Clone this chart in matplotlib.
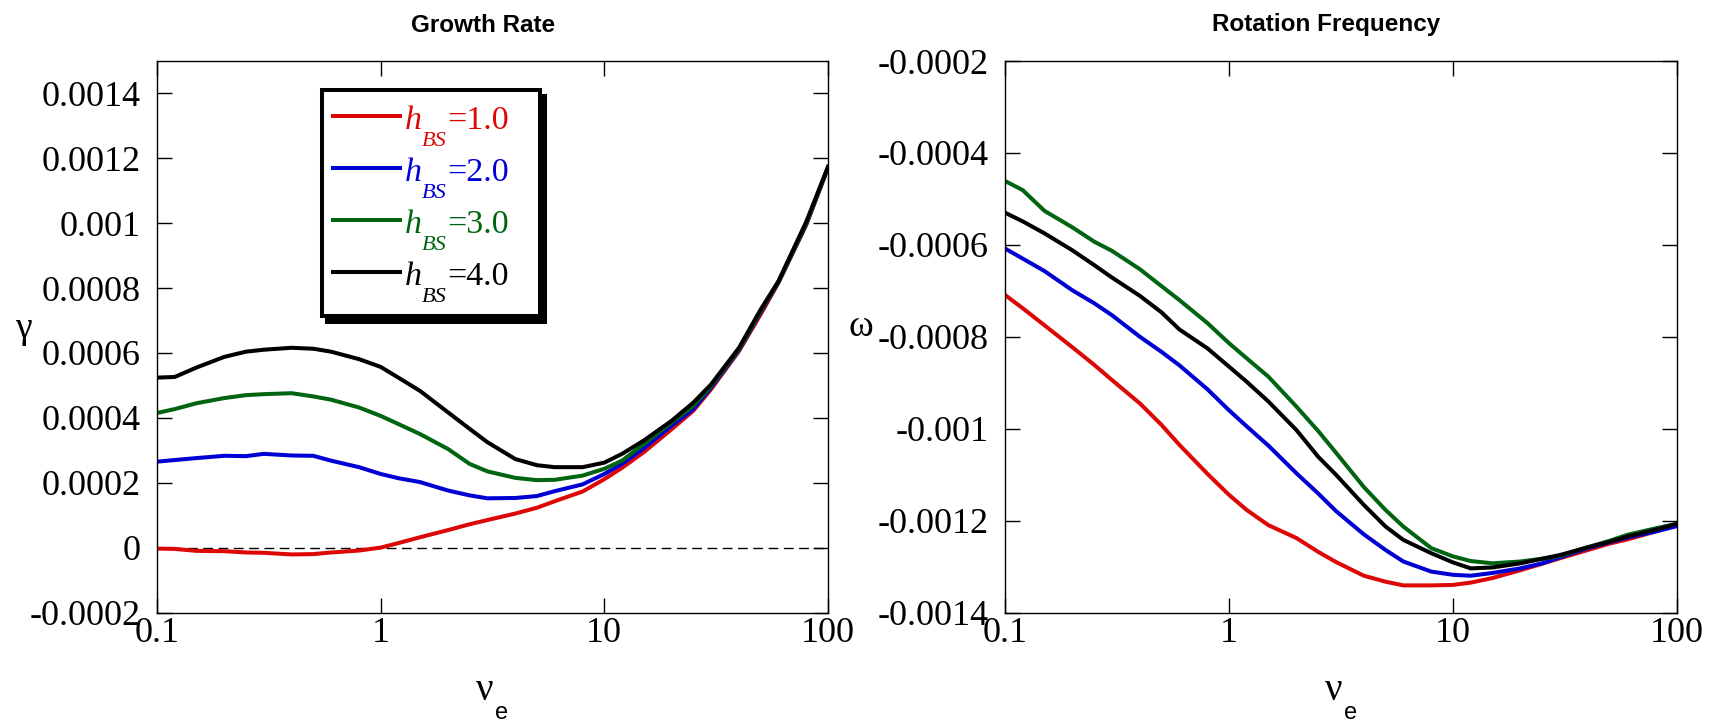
import matplotlib
matplotlib.use("Agg")
import matplotlib.pyplot as plt
from matplotlib import font_manager
from matplotlib.patches import Rectangle
from matplotlib.lines import Line2D

# collision frequency grid
nu_e = [0.1, 0.12, 0.15, 0.2, 0.25, 0.3, 0.4, 0.5, 0.6, 0.8, 1, 1.2, 1.5, 2, 2.5, 3,
        4, 5, 6, 8, 10, 12, 15, 20, 25, 30, 40, 50, 60, 80, 100]

# growth rate for each h_BS
gamma_h1 = [-0.000003, -0.000004, -0.00001, -0.000011, -0.000015, -0.000016, -0.000021,
            -0.00002, -0.000015, -0.000009, 0.0, 0.000014, 0.000032, 0.000054, 0.000072,
            0.000085, 0.000105, 0.000123, 0.000143, 0.000173, 0.000211, 0.000246, 0.000294,
            0.000365, 0.000422, 0.000488, 0.000606, 0.000719, 0.000816, 0.000995, 0.001171]
gamma_h2 = [0.000265, 0.00027, 0.000276, 0.000283, 0.000282, 0.000289, 0.000284, 0.000283,
            0.000268, 0.000248, 0.000227, 0.000214, 0.000202, 0.000176, 0.000161, 0.000152,
            0.000153, 0.000159, 0.000174, 0.000195, 0.000227, 0.000258, 0.000306, 0.000376,
            0.000427, 0.000493, 0.000609, 0.000726, 0.000818, 0.000998, 0.001172]
gamma_h3 = [0.000415, 0.000427, 0.000445, 0.000461, 0.00047, 0.000473, 0.000476, 0.000466,
            0.000456, 0.000432, 0.000406, 0.000381, 0.00035, 0.000304, 0.000258, 0.000235,
            0.000215, 0.000208, 0.000209, 0.000222, 0.000243, 0.000268, 0.000319, 0.000386,
            0.000437, 0.000498, 0.000612, 0.00073, 0.000819, 0.001, 0.001172]
gamma_h4 = [0.000524, 0.000526, 0.000555, 0.000588, 0.000604, 0.00061, 0.000616, 0.000613,
            0.000604, 0.000581, 0.000557, 0.000524, 0.000483, 0.000417, 0.000366, 0.000325,
            0.000273, 0.000254, 0.000248, 0.000248, 0.000262, 0.000289, 0.00033, 0.000391,
            0.000447, 0.000503, 0.000616, 0.000734, 0.000821, 0.001005, 0.001174]

# rotation frequency for each h_BS
omega_h1 = [-0.000709, -0.000738, -0.000775, -0.000823, -0.000861, -0.000894, -0.000945,
            -0.000992, -0.001035, -0.001098, -0.001144, -0.001177, -0.00121, -0.001238,
            -0.001268, -0.00129, -0.00132, -0.001333, -0.001341, -0.001341, -0.00134,
            -0.001335, -0.001325, -0.001308, -0.001294, -0.001282, -0.001264, -0.00125,
            -0.001241, -0.001224, -0.001209]
omega_h2 = [-0.000608, -0.00063, -0.000657, -0.000699, -0.000727, -0.000753, -0.0008,
            -0.000833, -0.000862, -0.000914, -0.00096, -0.000995, -0.001037, -0.001097,
            -0.001141, -0.001179, -0.00123, -0.001264, -0.001289, -0.001311, -0.001318,
            -0.00132, -0.001314, -0.001304, -0.001293, -0.00128, -0.00126, -0.001247,
            -0.001237, -0.001224, -0.001212]
omega_h3 = [-0.000461, -0.000481, -0.000526, -0.000562, -0.000593, -0.000613, -0.000653,
            -0.00069, -0.00072, -0.00077, -0.000814, -0.000847, -0.000887, -0.000952,
            -0.001005, -0.001052, -0.001127, -0.001177, -0.001213, -0.00126, -0.001278,
            -0.001288, -0.001293, -0.001289, -0.001283, -0.001277, -0.001258, -0.001244,
            -0.001231, -0.001217, -0.001207]
omega_h4 = [-0.00053, -0.000549, -0.000575, -0.000612, -0.000644, -0.000671, -0.000711,
            -0.000747, -0.000784, -0.000825, -0.000865, -0.000898, -0.000941, -0.001003,
            -0.001061, -0.0011, -0.001166, -0.001213, -0.001242, -0.001271, -0.001291,
            -0.001304, -0.001302, -0.001293, -0.001283, -0.001275, -0.001258, -0.001246,
            -0.001235, -0.00122, -0.001207]

series_labels = ["1.0", "2.0", "3.0", "4.0"]
colors = ["#dd0806", "#0000d4", "#006411", "#000000"]

x_ticks = [0.1, 1, 10, 100]
x_ticklabels = ["0.1", "1", "10", "100"]
gamma_ticks = [-0.0002, 0, 0.0002, 0.0004, 0.0006, 0.0008, 0.001, 0.0012, 0.0014]
gamma_ticklabels = ["-0.0002", "0", "0.0002", "0.0004", "0.0006", "0.0008", "0.001", "0.0012", "0.0014"]
omega_ticks = [-0.0014, -0.0012, -0.001, -0.0008, -0.0006, -0.0004, -0.0002]
omega_ticklabels = ["-0.0014", "-0.0012", "-0.001", "-0.0008", "-0.0006", "-0.0004", "-0.0002"]

W, H = 1718, 724
serif = "Liberation Serif"
names = {f.name for f in font_manager.fontManager.ttflist}
title_font = "Liberation Sans Narrow" if "Liberation Sans Narrow" in names else "Liberation Sans"
title_size = 20 if title_font == "Liberation Sans Narrow" else 17.5
sub_font = "Liberation Sans"

def fpos(x, y):
    return x / W, 1 - y / H

fig = plt.figure(figsize=(W / 100, H / 100), dpi=100)
ax1 = fig.add_axes([157 / W, 1 - 612.5 / H, 671 / W, 551.5 / H])
ax2 = fig.add_axes([1005 / W, 1 - 612.5 / H, 672 / W, 551.5 / H])

for ys, c in zip([gamma_h1, gamma_h2, gamma_h3, gamma_h4], colors):
    ax1.plot(nu_e, ys, color=c, lw=2.9)
ax1.axhline(0, color="black", lw=1.0, ls=(0, (7, 4)), zorder=1)

for ys, c in zip([omega_h1, omega_h2, omega_h3, omega_h4], colors):
    ax2.plot(nu_e, ys, color=c, lw=2.9)

for ax, yt, ytl, ylim in [(ax1, gamma_ticks, gamma_ticklabels, (-0.0002, 0.0015)),
                          (ax2, omega_ticks, omega_ticklabels, (-0.0014, -0.0002))]:
    ax.set_xscale("log")
    ax.set_xlim(0.1, 100)
    ax.set_ylim(*ylim)
    ax.set_xticks(x_ticks)
    ax.set_xticklabels(x_ticklabels)
    ax.xaxis.set_minor_locator(matplotlib.ticker.NullLocator())
    ax.set_yticks(yt)
    ax.set_yticklabels(ytl)
    ax.tick_params(direction="in", length=10.5, width=1.0, top=True, right=True,
                   labelsize=26)
    ax.tick_params(axis="y", pad=12)
    ax.tick_params(axis="x", pad=3)
    for lab in ax.get_xticklabels() + ax.get_yticklabels():
        lab.set_fontfamily(serif)
    for sp in ax.spines.values():
        sp.set_linewidth(1.0)

# titles
fig.text(*fpos(483, 25), "Growth Rate", family=title_font, weight="bold",
         fontsize=title_size, ha="center", va="center")
fig.text(*fpos(1326, 25), "Rotation Frequency", family=title_font, weight="bold",
         fontsize=title_size, ha="center", va="center")

# axis labels
fig.text(*fpos(23, 329), "\u03b3", family=serif, fontsize=27, ha="center", va="center")
fig.text(*fpos(861, 327), "\u03c9", family=serif, fontsize=27, ha="center", va="center")
for x0 in [476, 1325]:
    fig.text(*fpos(x0, 700), "\u03bd", family=serif, fontsize=28, ha="left", va="baseline")
    fig.text(*fpos(x0 + 19, 719), "e", family=sub_font, fontsize=17, ha="left", va="baseline")

# legend box with shadow
bx0, by0, bx1, by1 = 322, 90.3, 539.7, 316.3
fig.add_artist(Rectangle(fpos(bx0 + 5, by1 + 6), (bx1 - bx0) / W, (by1 - by0) / H,
                         transform=fig.transFigure, facecolor="black", edgecolor="black",
                         lw=2.9, zorder=5))
fig.add_artist(Rectangle(fpos(bx0, by1), (bx1 - bx0) / W, (by1 - by0) / H,
                         transform=fig.transFigure, facecolor="white", edgecolor="black",
                         lw=2.9, zorder=6))
row_y = [116, 168, 220, 272]
for yy, lab, c in zip(row_y, series_labels, colors):
    fig.add_artist(Line2D([333.3 / W, 400 / W], [1 - yy / H, 1 - yy / H],
                          transform=fig.transFigure, color=c, lw=2.9, zorder=7))
    fig.text(*fpos(405, yy + 13), "h", family=serif, style="italic", fontsize=24.5,
             color=c, va="baseline", zorder=7)
    fig.text(*fpos(422, yy + 30), "BS", family=serif, style="italic", fontsize=16,
             color=c, va="baseline", zorder=7)
    fig.text(*fpos(447, yy + 13), "=" + lab, family=serif, fontsize=24.5,
             color=c, va="baseline", zorder=7)

fig.savefig("out.png", dpi=100)
